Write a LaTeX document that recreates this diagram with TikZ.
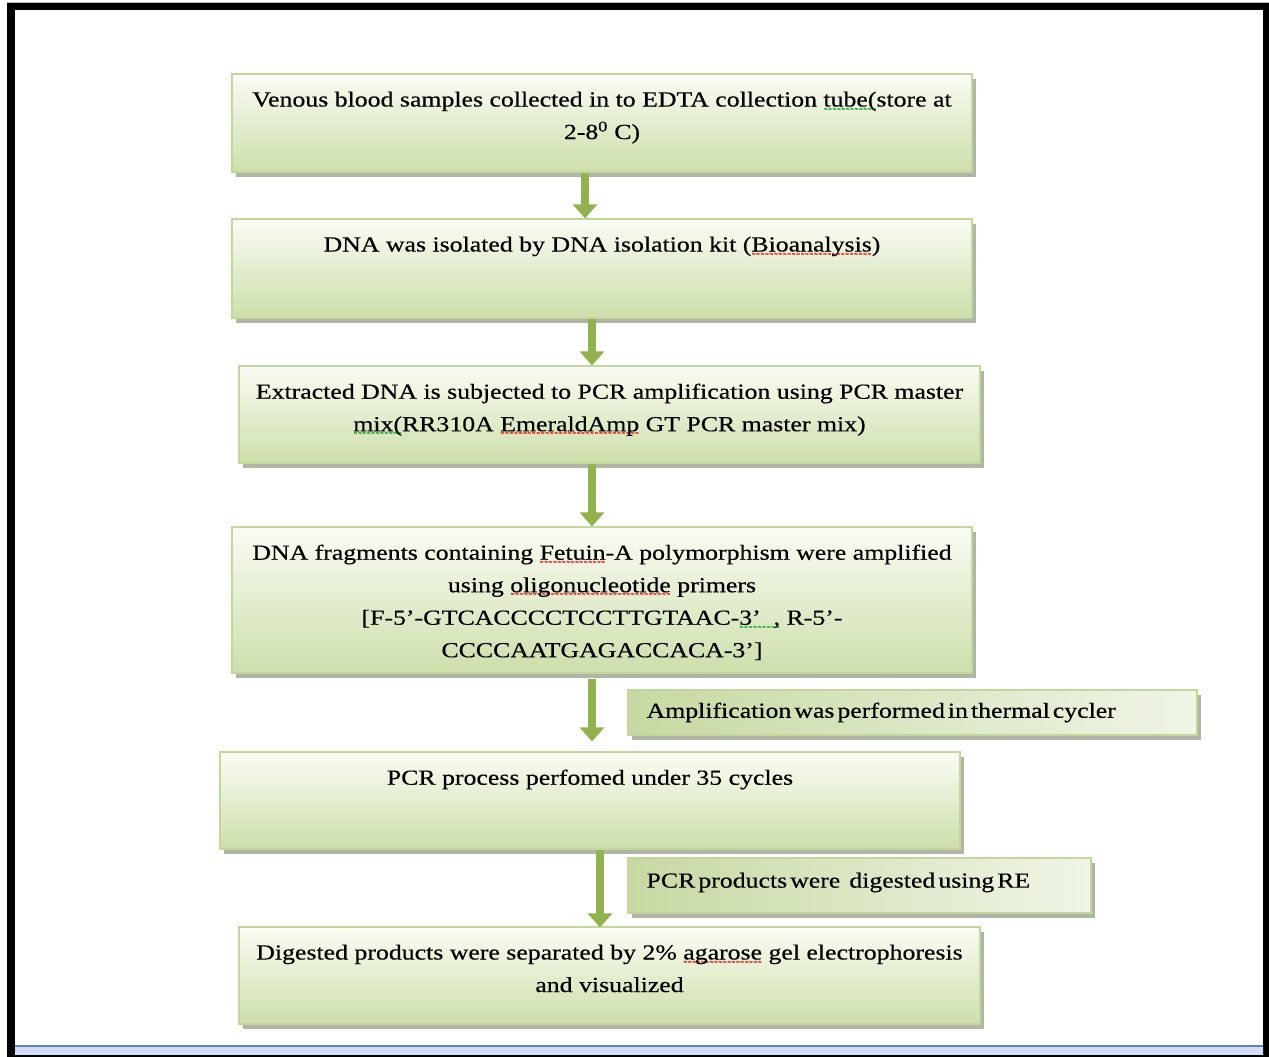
\documentclass[tikz,border=0pt]{standalone}
\usepackage{fontspec}
\setmainfont{Liberation Serif}[FakeStretch=1.2,FakeBold=0.4]
\newfontfamily\symfont{DejaVu Sans}
\usetikzlibrary{fit,shadows,calc,arrows.meta}

\definecolor{boxedge}{HTML}{C3D69B}
\definecolor{boxtop}{HTML}{FAFCF4}
\definecolor{boxbot}{HTML}{CDDFAB}
\definecolor{sidedark}{HTML}{C6D9A2}
\definecolor{sidelight}{HTML}{F0F5E6}
\definecolor{shadowc}{HTML}{A9AD9C}
\definecolor{arrowc}{HTML}{92B24F}
\definecolor{spellred}{HTML}{F01818}
\definecolor{spellgreen}{HTML}{1FA02F}
\definecolor{rulebluedark}{HTML}{5F84B8}
\definecolor{rulebluelight}{HTML}{D3E2F6}

% wavy proofing underline under a word
\newsavebox\squigbox
\newsavebox\wavebox
\newcommand\squig[2]{\sbox\squigbox{#2}%
  \sbox\wavebox{\textcolor{#1}{\scalebox{0.4}[1]{\fontsize{13}{13}\symfont\bfseries ∼}}}\leavevmode
  \rlap{\lower6.5pt\hbox to \wd\squigbox{\xleaders\copy\wavebox\hfil}}%
  \usebox\squigbox}
% narrower word spaces for the side notes
\newcommand\tightwords{\spaceskip=3pt plus 1pt\relax}

\tikzset{
  mainbox/.style={draw=boxedge, line width=1.2pt, inner sep=0pt,
    top color=boxtop, bottom color=boxbot,
    drop shadow={shadow xshift=4pt, shadow yshift=-5pt, fill=shadowc, opacity=0.9}},
  sidebox/.style={draw=boxedge, line width=1.2pt, inner sep=0pt,
    left color=sidedark, right color=sidelight,
    drop shadow={shadow xshift=4pt, shadow yshift=-5pt, fill=shadowc, opacity=0.9}},
  txt/.style={font=\fontsize{21.5}{32.5}\selectfont, align=center, inner sep=0pt, anchor=north},
  sidetxt/.style={font=\fontsize{21.5}{24}\selectfont, inner sep=0pt, anchor=west},
  flow/.style={draw=arrowc, line width=8pt, -{Triangle[width=24pt,length=14pt]}}
}

\begin{document}
\begin{tikzpicture}[x=1pt,y=-1pt]
\useasboundingbox (0,0) rectangle (1269,1057);

% page frame
\fill[gray!55] (7,2) rectangle (1269,3);
\fill[black] (7,3) rectangle (1269,10);
\fill[black] (7,3) rectangle (15,1057);
\fill[black] (1263,3) rectangle (1269,1057);
\fill[rulebluedark] (15,1045) rectangle (1263,1047.5);
\fill[top color=rulebluelight!85!blue!60, bottom color=rulebluelight] (15,1047.5) rectangle (1263,1055);
\fill[black] (7,1055) rectangle (1269,1057);

% process boxes
\node[mainbox, fit={(232,74) (972,172)}] (b1) {};
\node[mainbox, fit={(232,219) (972,318)}] (b2) {};
\node[mainbox, fit={(239,366) (980,463)}] (b3) {};
\node[mainbox, fit={(232,527) (972,673)}] (b4) {};
\node[mainbox, fit={(220,752) (960,849)}] (b5) {};
\node[mainbox, fit={(239,927) (980,1024)}] (b6) {};

% side notes
\node[sidebox, fit={(628,690) (1197,735)}] (s1) {};
\node[sidebox, fit={(628,858) (1091,913)}] (s2) {};

% box texts
\node[txt] (t1) at ($(b1.north)+(0,18)$) {Venous blood samples collected in to EDTA collection \squig{spellgreen}{tube(}store at\\2-8\textsuperscript{0} C)};
\node[txt] (t2) at ($(b2.north)+(0,18)$) {DNA was isolated by DNA isolation kit (\squig{spellred}{Bioanalysis})};
\node[txt] (t3) at ($(b3.north)+(0,18)$) {Extracted DNA is subjected to PCR amplification using PCR master\\\squig{spellgreen}{mix(}RR310A \squig{spellred}{EmeraldAmp} GT PCR master mix)};
\node[txt] (t4) at ($(b4.north)+(0,18)$) {DNA fragments containing \squig{spellred}{Fetuin}-A polymorphism were amplified\\using \squig{spellred}{oligonucleotide} primers\\{}[F-5’-GTCACCCCTCCTTGTAAC-\squig{spellgreen}{3’\ \ ,} R-5’-\\CCCCAATGAGACCACA-3’]};
\node[txt] (t5) at ($(b5.north)+(0,18)$) {PCR process perfomed under 35 cycles};
\node[txt] (t6) at ($(b6.north)+(0,18)$) {Digested products were separated by 2\% \squig{spellred}{agarose} gel electrophoresis\\and visualized};

\node[sidetxt] (u1) at ($(s1.west)+(19,0)$) {\tightwords Amplification was performed in thermal cycler};
\node[sidetxt] (u2) at ($(s2.west)+(19,-3)$) {\tightwords PCR products were\ \ \ digested using RE};

% flow arrows
\draw[flow] ($(b1.south)+(-17,0)$) -- ($(b2.north)+(-17,0)$);
\draw[flow] ($(b2.south)+(-10,0)$) -- ($(b3.north)+(-17.5,0)$);
\draw[flow] ($(b3.south)+(-17.5,0)$) -- ($(b4.north)+(-10,0)$);
\draw[flow] ($(b4.south)+(-10,5)$) -- ($(b5.north)+(2,-10)$);
\draw[flow] ($(b5.south)+(10,0)$) -- ($(b6.north)+(-9.5,1)$);
\end{tikzpicture}
\end{document}
